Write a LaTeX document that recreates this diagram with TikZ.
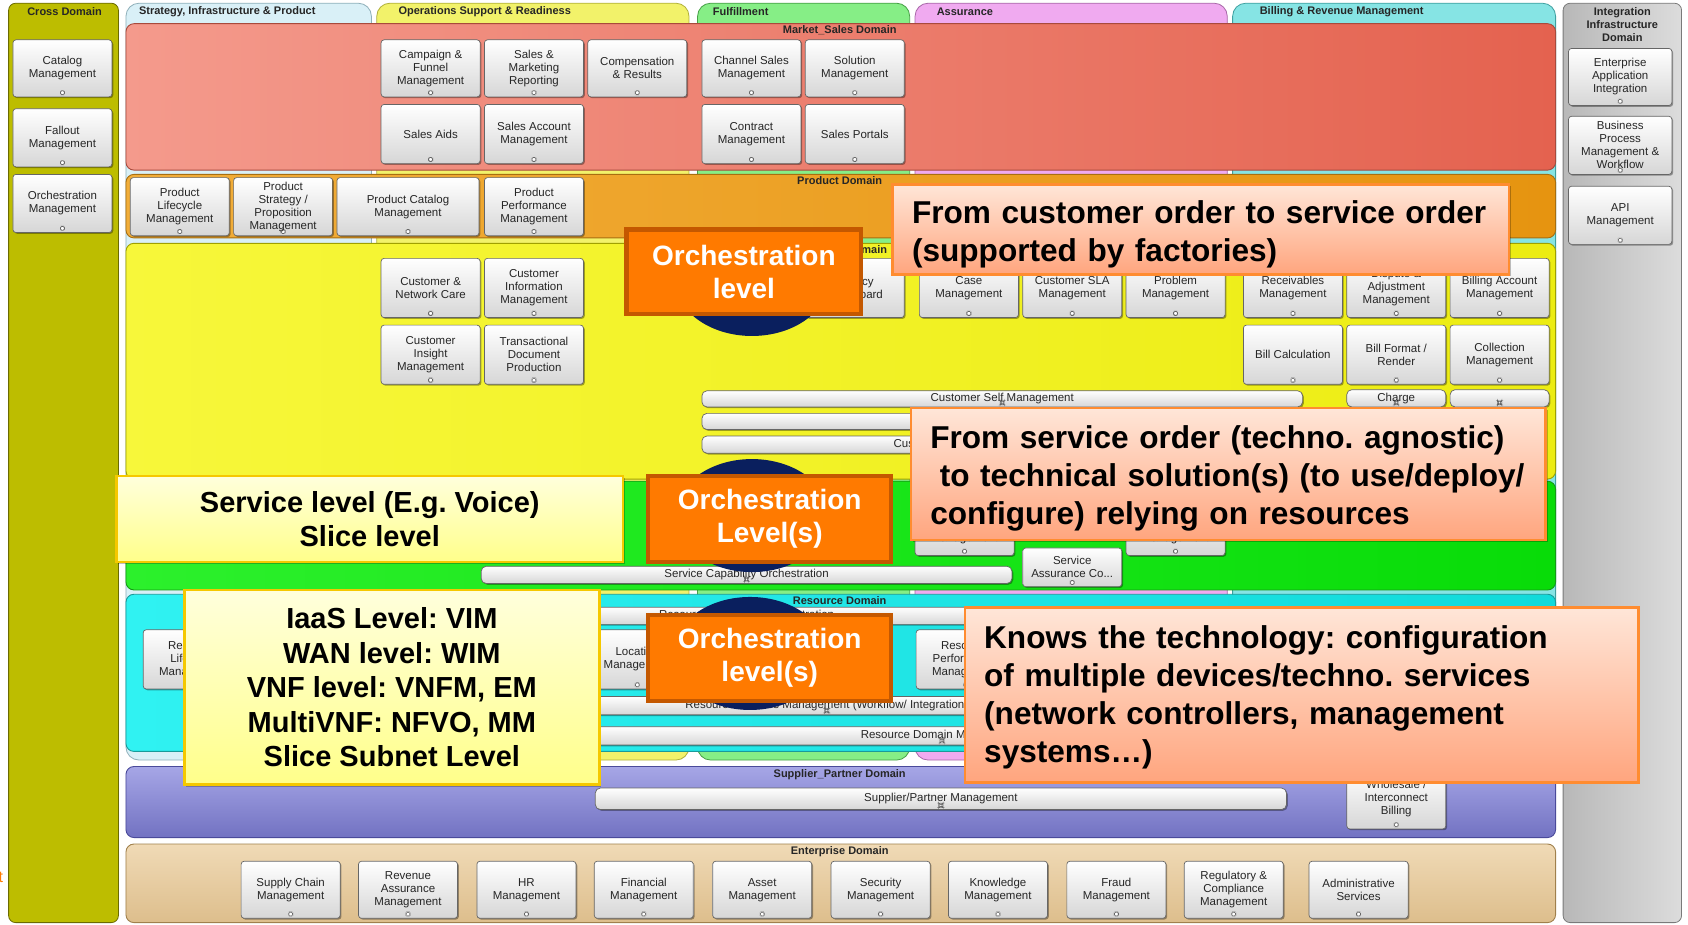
\documentclass[tikz,border=0pt]{standalone}
\usepackage{fontspec}
\setmainfont{Liberation Sans}
\usetikzlibrary{shadows}
\frenchspacing
\definecolor{crossc}{HTML}{BDBD00}\definecolor{crossd}{HTML}{6B6B00}
\definecolor{intl}{HTML}{B8B8B8}\definecolor{intr}{HTML}{DCDCDC}\definecolor{intd}{HTML}{7A7A7A}
\definecolor{strc}{HTML}{D9F0F7}\definecolor{strd}{HTML}{8FB0BA}
\definecolor{opsc}{HTML}{F2F26A}\definecolor{opsd}{HTML}{B0B03A}
\definecolor{fulc}{HTML}{86EE86}\definecolor{fuld}{HTML}{47A047}
\definecolor{assc}{HTML}{F0AAF0}\definecolor{assd}{HTML}{A868A8}
\definecolor{bilc}{HTML}{86E4E4}\definecolor{bild}{HTML}{3FA0A0}
\definecolor{msl}{HTML}{F49A8C}\definecolor{msr}{HTML}{E4624F}\definecolor{msd}{HTML}{A84A3C}
\definecolor{prl}{HTML}{F2AE3A}\definecolor{prr}{HTML}{E69410}\definecolor{prd}{HTML}{A86E10}
\definecolor{cul}{HTML}{F7F73A}\definecolor{cur}{HTML}{ECEC12}\definecolor{cud}{HTML}{A0A000}
\definecolor{sel}{HTML}{2CF02C}\definecolor{ser}{HTML}{08DC08}\definecolor{sed}{HTML}{159A15}
\definecolor{rel}{HTML}{30F2F2}\definecolor{rer}{HTML}{12DADA}\definecolor{red}{HTML}{1A9A9A}
\definecolor{sut}{HTML}{A6A6E6}\definecolor{sub}{HTML}{7272C2}\definecolor{sud}{HTML}{4A4A9A}
\definecolor{ent}{HTML}{F0DAB6}\definecolor{enb}{HTML}{DDBE8C}\definecolor{end}{HTML}{A0804C}
\definecolor{navyc}{HTML}{0A1F5E}
\definecolor{orf}{HTML}{FF7A00}\definecolor{ord}{HTML}{C45800}
\definecolor{ynt}{HTML}{FFFFDC}\definecolor{ynb}{HTML}{FFFF8A}\definecolor{ynd}{HTML}{F5C800}
\definecolor{ant}{HTML}{FFE6D8}\definecolor{anb}{HTML}{FFA57E}\definecolor{annd}{HTML}{FF8C30}
\newcommand\bx[6]{\node[dbox, minimum width={(#4-#2)*1.0765pt}, minimum height={(#5-#3)*1.0765pt}] (#1) at ({(#2+#4)/2},{(#3+#5)/2}) {#6};}
\newcommand\br[6]{\node[dbar, minimum width={(#4-#2)*1.0765pt}, minimum height={(#5-#3)*1.0765pt}] (#1) at ({(#2+#4)/2},{(#3+#5)/2}) {#6};}
\begin{document}
\begin{tikzpicture}[x=1.0765pt, y=-1.0765pt,
 icon/.style={path picture={\draw[black!60, line width=0.4pt, fill=white] ([yshift=4.2pt]path picture bounding box.south) ++(-2.2pt,-2.2pt) rectangle ++(4.4pt,4.4pt);}},
 dbox/.style={draw=black!60, line width=0.7pt, rounded corners=3pt, top color=white, bottom color=black!16, drop shadow={shadow xshift=1.3pt, shadow yshift=-1.3pt, opacity=0.35, fill=black}, inner sep=1pt, align=center, text=black!85, font=\fontsize{11.5}{13}\selectfont, icon},
 dbar/.style={dbox, rounded corners=5pt},
 colbox/.style={line width=0.8pt, rounded corners=13pt},
 rowbox/.style={line width=0.9pt, rounded corners=8pt},
 hdr/.style={inner sep=0pt, text=black!85, font=\bfseries\fontsize{11}{13}\selectfont},
 dlab/.style={inner sep=0pt, text=black!85, font=\bfseries\fontsize{11}{13}\selectfont},
 orch/.style={fill=orf, draw=ord, line width=4.5pt, text=white, align=center, inner sep=2pt, font=\bfseries\fontsize{28}{33}\selectfont},
 ynote/.style={top color=ynt, bottom color=ynb, draw=ynd, line width=2.5pt, align=center, inner sep=2pt, font=\bfseries\fontsize{29}{34.5}\selectfont, drop shadow={shadow xshift=2pt, shadow yshift=-2pt, opacity=0.25, fill=black}},
 anno/.style={top color=ant, bottom color=anb, draw=annd, line width=2.5pt, align=left, inner xsep=19.4pt, inner ysep=2pt, font=\bfseries\fontsize{31.6}{38}\selectfont, drop shadow={shadow xshift=2pt, shadow yshift=-2pt, opacity=0.25, fill=black}},
]
\useasboundingbox (0,0) rectangle (1568,859);
\fill[white] (0,0) rectangle (1568,859);
\node[text=orf, inner sep=0pt, anchor=east, font=\fontsize{16}{16}\selectfont] (frag) at (3,815) {t};

% columns
\draw[colbox, fill=crossc, draw=crossd, rounded corners=7pt] (8,3) rectangle (110,857);
\draw[colbox, left color=intl, right color=intr, draw=intd, rounded corners=7pt] (1452,3) rectangle (1562,857);
\draw[colbox, fill=strc, draw=strd] (117,3) rectangle (345,706);
\draw[colbox, fill=opsc, draw=opsd] (350,3) rectangle (640,706);
\draw[colbox, fill=fulc, draw=fuld] (648,3) rectangle (845,706);
\draw[colbox, fill=assc, draw=assd] (850,3) rectangle (1140,706);
\draw[colbox, fill=bilc, draw=bild] (1145,3) rectangle (1445,706);
\node[hdr] (hcross) at (60,11) {Cross Domain};
\node[hdr, anchor=west] (hstr) at (129,11) {Strategy, Infrastructure \& Product};
\node[hdr, anchor=west] (hops) at (370,11) {Operations Support \& Readiness};
\node[hdr, anchor=west] (hful) at (662,11) {Fulfillment};
\node[hdr, anchor=west] (hass) at (870,11) {Assurance};
\node[hdr, anchor=west] (hbil) at (1170,11) {Billing \& Revenue Management};
\node[hdr, align=center] (hint) at (1507,23) {Integration\\Infrastructure\\Domain};

% rows
\draw[rowbox, left color=msl, right color=msr, draw=msd] (117,22) rectangle (1445,158);
\draw[rowbox, left color=prl, right color=prr, draw=prd] (117,162) rectangle (1445,221);
\draw[rowbox, left color=cul, right color=cur, draw=cud] (117,226) rectangle (1445,445);
\draw[rowbox, left color=sel, right color=ser, draw=sed] (117,447) rectangle (1445,548);
\draw[rowbox, left color=rel, right color=rer, draw=red] (117,552) rectangle (1445,698);
\draw[rowbox, top color=sut, bottom color=sub, draw=sud] (117,712) rectangle (1445,778);
\draw[rowbox, top color=ent, bottom color=enb, draw=end] (117,784) rectangle (1445,857);
\node[dlab] (lms) at (780,28) {Market\_Sales Domain};
\node[dlab] (lpr) at (780,168) {Product Domain};
\node[dlab] (lcu) at (780,232) {Customer Domain};
\node[dlab] (lre) at (780,558) {Resource Domain};
\node[dlab] (lsu) at (780,720) {Supplier\_Partner Domain};
\node[dlab] (len) at (780,791) {Enterprise Domain};

% cross domain
\bx{cat}{12}{37}{104}{90}{Catalog\\Management}
\bx{fall}{12}{101}{104}{155}{Fallout\\Management}
\bx{orchm}{12}{162}{104}{216}{Orchestration\\Management}
% market sales
\bx{camp}{354}{37}{446}{90}{Campaign \&\\Funnel\\Management}
\bx{smr}{450}{37}{542}{90}{Sales \&\\Marketing\\Reporting}
\bx{comp}{546}{37}{638}{90}{Compensation\\\& Results}
\bx{saids}{354}{97}{446}{152}{Sales Aids}
\bx{sacc}{450}{97}{542}{152}{Sales Account\\Management}
\bx{chan}{652}{37}{744}{90}{Channel Sales\\Management}
\bx{sol}{748}{37}{840}{90}{Solution\\Management}
\bx{contr}{652}{97}{744}{152}{Contract\\Management}
\bx{sport}{748}{97}{840}{152}{Sales Portals}
% product
\bx{plm}{121}{165}{213}{219}{Product\\Lifecycle\\Management}
\bx{pspm}{217}{165}{309}{219}{Product\\Strategy /\\Proposition\\Management}
\bx{pcat}{313}{165}{445}{219}{Product Catalog\\Management}
\bx{ppm}{450}{165}{542}{219}{Product\\Performance\\Management}
% customer
\bx{cnc}{354}{240}{446}{295}{Customer \&\\Network Care}
\bx{cim}{450}{240}{542}{295}{Customer\\Information\\Management}
\bx{cins}{354}{302}{446}{357}{Customer\\Insight\\Management}
\bx{tdp}{450}{302}{542}{357}{Transactional\\Document\\Production}
\bx{pdash}{748}{240}{840}{295}{Privacy\\Dashboard}
\bx{case}{854}{240}{946}{295}{Case\\Management}
\bx{csla}{950}{240}{1042}{295}{Customer SLA\\Management}
\bx{prob}{1046}{240}{1138}{295}{Problem\\Management}
\bx{recv}{1155}{240}{1247}{295}{Receivables\\Management}
\bx{disp}{1251}{240}{1343}{295}{Dispute \&\\Adjustment\\Management}
\bx{bam}{1347}{240}{1439}{295}{Billing Account\\Management}
\bx{bcalc}{1155}{302}{1247}{357}{Bill Calculation}
\bx{bfr}{1251}{302}{1343}{357}{Bill Format /\\Render}
\bx{coll}{1347}{302}{1439}{357}{Collection\\Management}
\br{csm}{652}{363}{1210}{378}{Customer Self Management}
\br{cbar}{652}{384}{1210}{399}{}
\br{com}{652}{405}{1150}{421}{Customer Order Management}
\br{chg}{1251}{362}{1343}{378}{Charge}
\br{cbx}{1347}{362}{1439}{378}{}
% service
\bx{spm}{850}{461}{942}{516}{\mbox{}\\\mbox{}\\[8pt]Management}
\bx{sac}{950}{509}{1042}{545}{Service\\Assurance Co...}
\bx{sqm}{1046}{461}{1138}{516}{\mbox{}\\\mbox{}\\[8pt]Management}
\br{sco}{447}{526}{940}{542}{Service Capability Orchestration}
% resource
\br{rco}{447}{564}{940}{580}{Resource Capability Orchestration}
\bx{rlm}{133}{585}{225}{640}{Resource\\Lifecycle\\Management}
\bx{locm}{546}{585}{638}{640}{Location\\Management}
\bx{rperf}{851}{585}{943}{640}{Resource\\Performance\\Management}
\br{rpw}{447}{647}{1089}{664}{Resource Process Management (Workflow/ Integration)}
\br{rdm}{447}{675}{1303}{692}{Resource Domain Management}
% supplier
\br{spmg}{553}{732}{1195}{752}{Supplier/Partner Management}
\bx{wib}{1251}{714}{1343}{770}{Wholesale /\\Interconnect\\Billing}
% enterprise
\bx{supc}{224}{800}{316}{853}{Supply Chain\\Management}
\bx{revas}{333}{800}{425}{853}{Revenue\\Assurance\\Management}
\bx{hr}{443}{800}{535}{853}{HR\\Management}
\bx{fin}{552}{800}{644}{853}{Financial\\Management}
\bx{asset}{662}{800}{754}{853}{Asset\\Management}
\bx{sec}{772}{800}{864}{853}{Security\\Management}
\bx{know}{881}{800}{973}{853}{Knowledge\\Management}
\bx{fraud}{991}{800}{1083}{853}{Fraud\\Management}
\bx{reg}{1100}{800}{1192}{853}{Regulatory \&\\Compliance\\Management}
\bx{admin}{1216}{800}{1308}{853}{Administrative\\Services}
% integration
\bx{eai}{1457}{45}{1553}{98}{Enterprise\\Application\\Integration}
\bx{bpm}{1457}{108}{1553}{162}{Business\\Process\\Management \&\\Workflow}
\bx{api}{1457}{173}{1553}{227}{API\\Management}

% navy discs
\begin{scope}
\clip (600,222) rectangle (800,330);
\fill[navyc] (698.5,259.6) ellipse [x radius=77pt, y radius=56.5pt];
\end{scope}
\fill[navyc] (698.5,478.9) ellipse [x radius=77pt, y radius=56.5pt];
\fill[navyc] (696.7,607) ellipse [x radius=77pt, y radius=56.5pt];

% orchestration boxes
\node[orch, minimum width=234.5pt, minimum height=84.8pt] (o1) at (691,252.5) {Orchestration\\level};
\node[orch, minimum width=243pt, minimum height=86pt] (o2) at (715,482) {Orchestration\\Level(s)};
\node[orch, minimum width=243pt, minimum height=86pt] (o3) at (715,611) {Orchestration\\level(s)};

% notes
\node[ynote, minimum width=506.7pt, minimum height=85.8pt] (y1) at (343.5,482) {Service level (E.g. Voice)\\Slice level};
\node[ynote, minimum width=415pt, minimum height=194.5pt] (y2) at (364,638.5) {IaaS Level: VIM\\WAN level: WIM\\VNF level: VNFM, EM\\MultiVNF: NFVO, MM\\Slice Subnet Level};

% annotations
\node[anno, text width=577.7pt, minimum height=90pt] (a1) at (1115.5,213) {\mbox{\rule{0pt}{32pt}From customer order to service order}\\\mbox{(supported by factories)}};
\node[anno, text width=596pt, minimum height=132pt] (a2) at (1141,440.5) {\mbox{\rule{0pt}{31pt}From service order (techno. agnostic)}\\\mbox{\hspace*{0.3em}to technical solution(s) (to use/deploy/}\\\mbox{configure) relying on resources}};
\node[anno, text width=634.7pt, minimum height=175pt] (a3) at (1209,645.5) {\mbox{\rule{0pt}{27.5pt}Knows the technology: configuration}\\\mbox{of multiple devices/techno. services}\\\mbox{(network controllers, management}\\\mbox{systems\dots)}};
\end{tikzpicture}
\end{document}
